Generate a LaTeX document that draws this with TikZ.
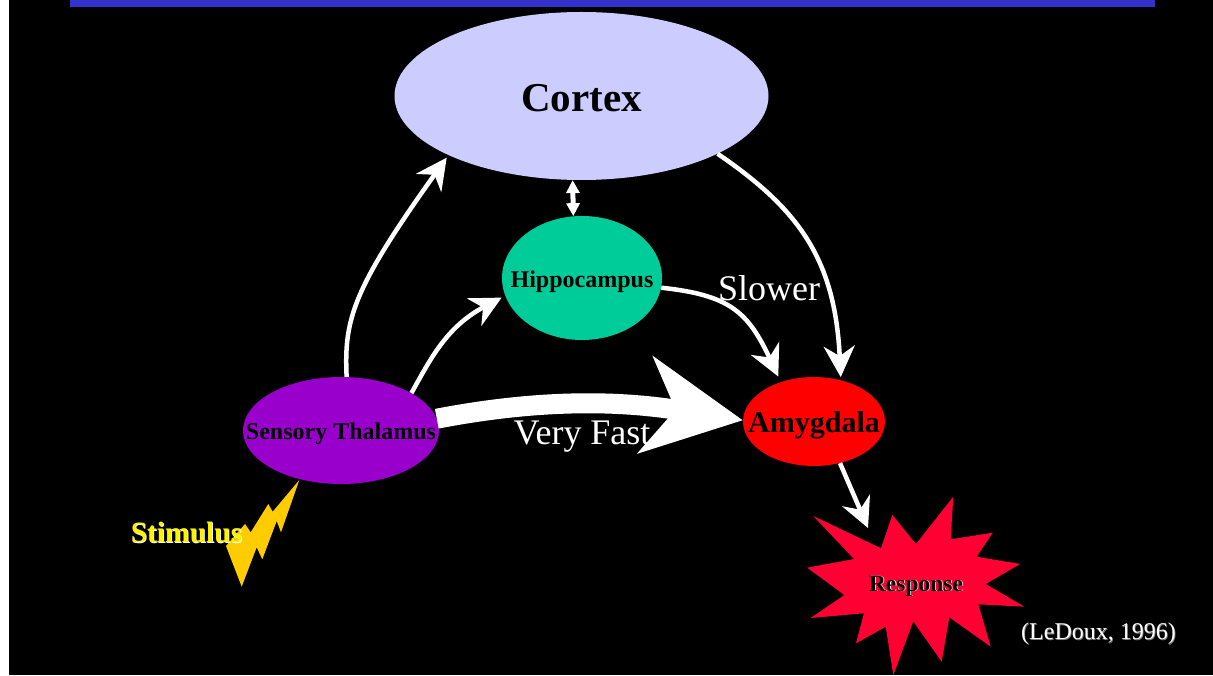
\documentclass[tikz,border=0pt]{standalone}
\usepackage{fontspec}
\setmainfont{Liberation Serif}
\usetikzlibrary{arrows.meta,shapes.geometric}
\definecolor{barblue}{HTML}{3333CC}
\definecolor{cortexblue}{HTML}{CCCCFF}
\definecolor{hippogreen}{HTML}{00CC99}
\definecolor{thalpurple}{HTML}{9900CC}
\definecolor{burstred}{HTML}{FF0033}
\definecolor{boltyellow}{HTML}{FFCC00}
\newcommand{\pxfont}[1]{\fontsize{#1}{#1}\selectfont}
\newcommand{\castshadow}[2]{\rlap{\kern.8pt\raisebox{-.8pt}{\textcolor{#1}{#2}}}#2}
\newcommand{\regiontext}[3]{\makebox[0pt]{\smash{\raisebox{-#2pt}{\pxfont{#1}\bfseries #3}}}}
\tikzset{
	region/.style={ellipse,inner sep=0pt},
	pathway/.style={white,line width=4.5pt,-{Stealth[length=31pt,width=31pt,inset=10pt]}},
	label/.style={white,anchor=base,font=\pxfont{36}},
}

\begin{document}
\begin{tikzpicture}[x=1pt,y=1pt]
	\useasboundingbox (0,0) rectangle (1213,675);
	\fill[white] (0,0) rectangle (1213,675);
	\fill[black] (8.5,0) rectangle (1213,675);
	\fill[barblue] (70,668) rectangle (1155,675);
	% brain regions
	\node[region,fill=cortexblue,minimum width=374pt,minimum height=168pt] (cortex) at (581.5,579) {\regiontext{41}{15.5}{Cortex}};
	\node[region,fill=hippogreen,minimum width=160pt,minimum height=124pt] (hippocampus) at (582,397) {\regiontext{24}{10}{Hippocampus}};
	\node[region,fill=thalpurple,minimum width=196pt,minimum height=107pt] (thalamus) at (341,244.5) {\regiontext{24}{9}{Sensory Thalamus}};
	\node[region,fill=red,minimum width=142pt,minimum height=89pt] (amygdala) at (814,253.5) {\regiontext{30}{11.5}{Amygdala}};
	% bolt and burst
	\fill[boltyellow] (299.3,195) -- (281,142.7) -- (276.7,154) -- (262.3,115.7) -- (256.7,127.7) -- (241.7,88.3) -- (226,129) -- (245,151) -- (250.7,142.7) -- (268.3,171) -- (272.7,163.3) -- cycle;
	\fill[burstred] (953.3,178.3) -- (950.7,135.7) -- (992.7,142.3) -- (976.7,118.3) -- (1020,111) -- (985.7,91) -- (1024.3,68.3) -- (978.3,70.7) -- (990.7,28.3) -- (949.3,57.7) -- (941.7,13.3) -- (913.3,53.7) -- (893.3,0) -- (885.7,48.3) -- (856,31.7) -- (864,61.7) -- (810.7,57) -- (844.3,80) -- (807.3,107.3) -- (854,116) -- (813.3,159) -- (881,126.7) -- (892.3,160) -- (916,131) -- cycle;
	\coordinate (bursttip) at (868,147);
	% pathways
	\draw[pathway,shorten >=3pt] (thalamus.84) .. controls (344,355) and (352,385) .. (cortex.204);
	\draw[pathway,shorten >=4pt] (thalamus.28) .. controls (430,315) and (446,348) .. (hippocampus.193);
	\draw[pathway,line width=20pt,-{Stealth[length=98pt,width=97pt,inset=30pt]}] (thalamus.7) .. controls (560,280) and (640,271) .. (amygdala.179);
	\draw[pathway,shorten >=6pt] (hippocampus.-7) .. controls (730,380) and (748,363) .. (amygdala.130);
	\draw[pathway,shorten >=3pt] (cortex.337) .. controls (800,465) and (835,415) .. (amygdala.57);
	\draw[pathway,-{Stealth[length=30pt,width=30pt,inset=10pt]}] (amygdala.-58) -- (bursttip);
	\draw[white,line width=5pt,{Stealth[length=13pt,width=13pt,inset=0pt]}-{Stealth[length=13pt,width=13pt,inset=0pt]}] (cortex.264) -- (hippocampus.98);
	% labels
	\node[label] (veryfast) at (582,230.5) {Very Fast};
	\node[label] (slower) at (769,374) {Slower};
	\node[anchor=base,yellow,font=\pxfont{29.5}\bfseries] (stimulus) at (186.5,132) {\castshadow{white}{Stimulus}};
	\node[anchor=base,font=\pxfont{23.5}\bfseries] (response) at (916,84) {\castshadow{white}{Response}};
	\node[anchor=base,white,font=\pxfont{24}] (ledoux) at (1098.5,35.5) {\castshadow{gray}{(LeDoux, 1996)}};
\end{tikzpicture}
\end{document}
